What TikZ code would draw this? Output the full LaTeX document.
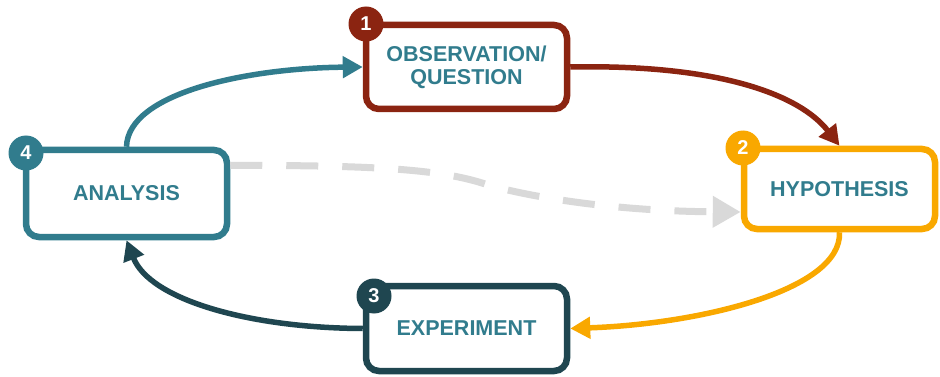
\documentclass[tikz,border=0pt]{standalone}
\usepackage{fontspec}
\setmainfont{Liberation Sans}
\usetikzlibrary{arrows.meta}
\definecolor{cRed}{HTML}{8B2411}
\definecolor{cOrange}{HTML}{F9A800}
\definecolor{cTeal}{HTML}{317C8D}
\definecolor{cDark}{HTML}{1F4650}
\definecolor{cGray}{HTML}{D9D9D9}
\tikzset{
  stagebox/.style={draw=#1, fill=white, line width=6.5pt, rounded corners=13pt,
    align=center, text=cTeal, font=\fontsize{21.5}{23}\selectfont\bfseries, inner sep=0pt},
  numdot/.style={circle, fill=#1, minimum size=35pt, inner sep=0pt, text=white,
    font=\fontsize{20}{22}\selectfont\bfseries},
  flow/.style={draw=#1, line width=5.5pt, -{Triangle[length=20pt,width=21pt,fill=#1]}},
  backflow/.style={draw=cGray, line width=7pt, dash pattern=on 32pt off 24pt,
    -{Triangle[length=28pt,width=30pt,fill=cGray]}}
}
\begin{document}
\begin{tikzpicture}[x=1pt,y=-1pt]
\useasboundingbox (0,0) rectangle (940,377);
% boxes
\node[stagebox=cRed, minimum width=201pt, minimum height=84pt] (obs) at (466.5,67) {OBSERVATION/\\QUESTION};
\node[stagebox=cOrange, minimum width=191pt, minimum height=80pt] (hyp) at (839.5,189) {HYPOTHESIS};
\node[stagebox=cDark, minimum width=201pt, minimum height=85pt] (exp) at (466.5,328.5) {EXPERIMENT};
\node[stagebox=cTeal, minimum width=201pt, minimum height=87pt] (ana) at (126.5,193.5) {ANALYSIS};
% connectors
\draw[flow=cRed] (obs.east) .. controls (720,64) and (800,95) .. (hyp.north);
\draw[flow=cOrange] (hyp.south) .. controls (842,290) and (700,324) .. (exp.east);
\draw[flow=cDark] (exp.west) .. controls (250,328) and (150,300) .. (ana.south);
\draw[flow=cTeal] (ana.north) .. controls (128,92) and (250,68) .. (obs.west);
\coordinate (bend) at (482,183);
\draw[backflow] ([yshift=28pt]ana.east) .. controls (380,165) and (440,170) .. (bend)
  .. controls (512,193) and (600,211) .. ([yshift=-23pt]hyp.west);
% numbers
\node[numdot=cRed] (n1) at (366,24) {1};
\node[numdot=cOrange] (n2) at (743,148) {2};
\node[numdot=cDark] (n3) at (374,296) {3};
\node[numdot=cTeal] (n4) at (26,153) {4};
\end{tikzpicture}
\end{document}
